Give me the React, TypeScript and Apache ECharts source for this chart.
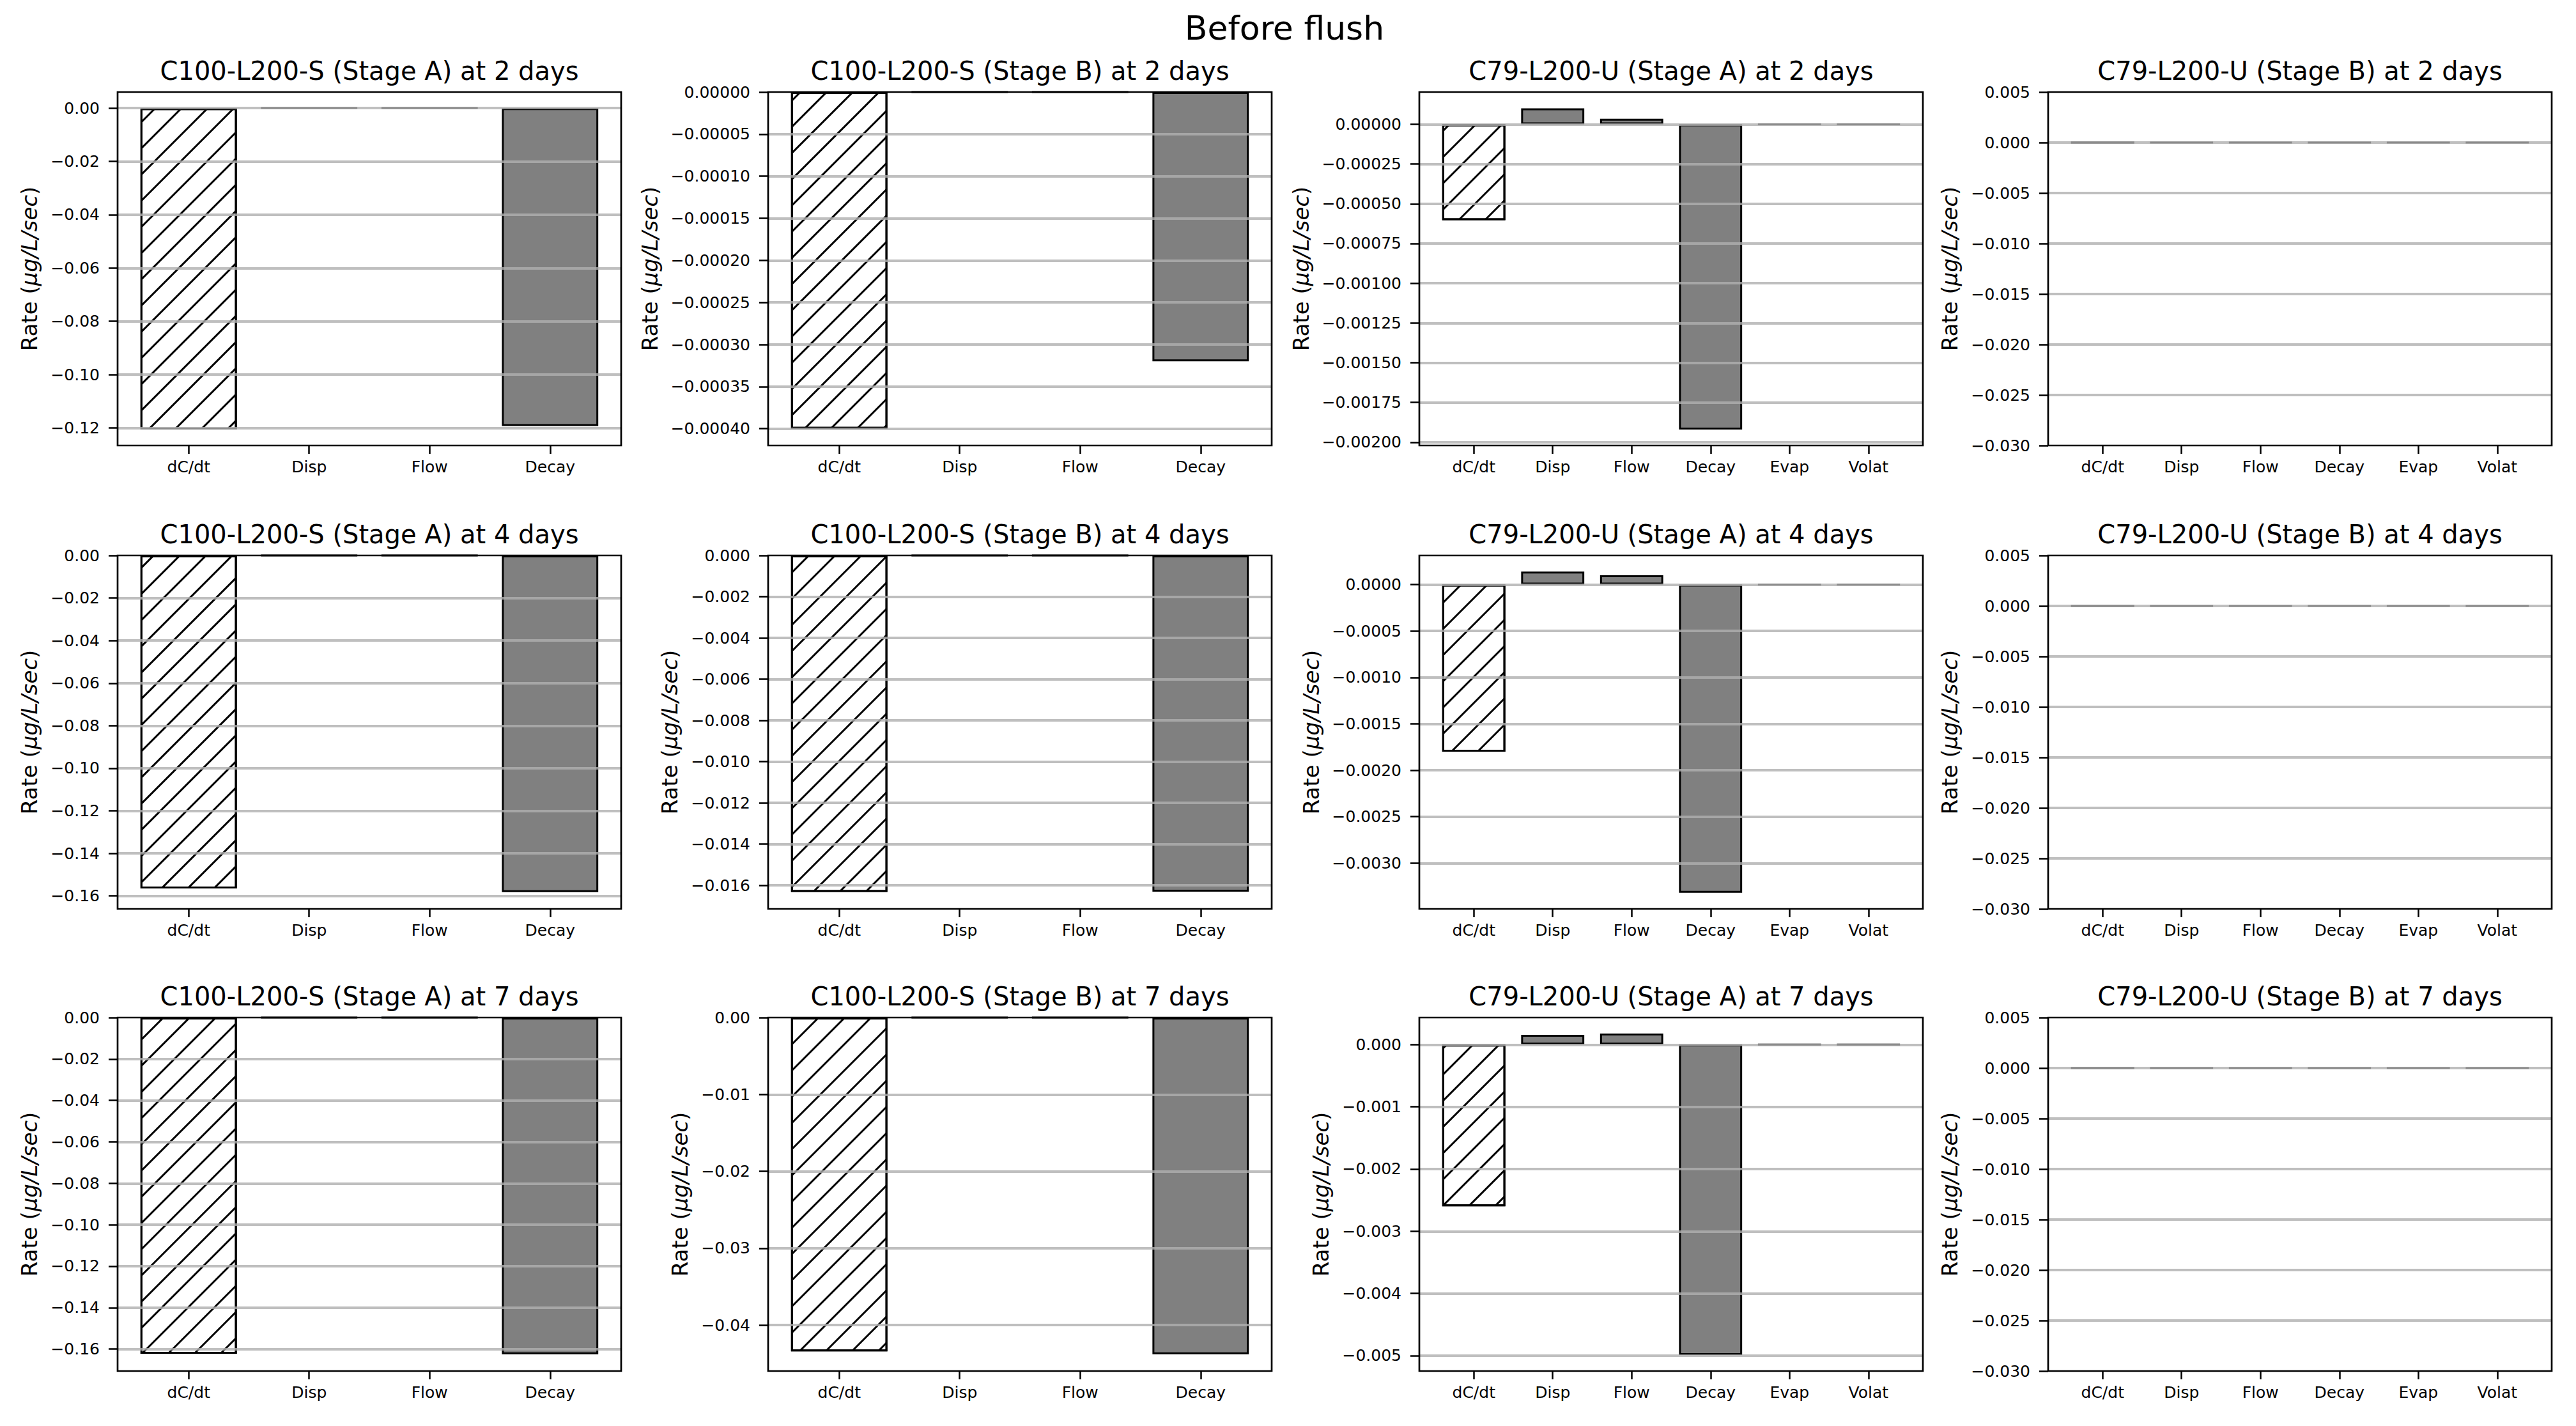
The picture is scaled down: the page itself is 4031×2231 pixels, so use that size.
import React, { useEffect, useRef } from "react";
import * as echarts from "echarts";

// ---------- categories & texts ----------
const CATS_C100 = ["dC/dt", "Disp", "Flow", "Decay"];
const CATS_C79 = ["dC/dt", "Disp", "Flow", "Decay", "Evap", "Volat"];
const SUPTITLE = "Before flush";
const TITLES = [
  "C100-L200-S (Stage A) at 2 days",
  "C100-L200-S (Stage B) at 2 days",
  "C79-L200-U (Stage A) at 2 days",
  "C79-L200-U (Stage B) at 2 days",
  "C100-L200-S (Stage A) at 4 days",
  "C100-L200-S (Stage B) at 4 days",
  "C79-L200-U (Stage A) at 4 days",
  "C79-L200-U (Stage B) at 4 days",
  "C100-L200-S (Stage A) at 7 days",
  "C100-L200-S (Stage B) at 7 days",
  "C79-L200-U (Stage A) at 7 days",
  "C79-L200-U (Stage B) at 7 days",
];

// ---------- series values ----------
const S_A_2D = [-0.1206, 0.00001, 0.00001, -0.1193];
const S_B_2D = [-0.0004, 0, 0, -0.00032];
const U_A_2D = [-0.000603, 0.0001, 0.000035, -0.00192, 0, 0];
const U_B_2D = [0, 0, 0, 0, 0, 0];
const S_A_4D = [-0.1565, 0, 0, -0.1582];
const S_B_4D = [-0.01632, 0, 0, -0.0163];
const U_A_4D = [-0.0018, 0.00014, 0.0001, -0.00332, 0, 0];
const U_B_4D = [0, 0, 0, 0, 0, 0];
const S_A_7D = [-0.1623, 0, 0, -0.1625];
const S_B_7D = [-0.04343, 0, 0, -0.04379];
const U_A_7D = [-0.0026, 0.000157, 0.000177, -0.00499, 0, 0];
const U_B_7D = [0, 0, 0, 0, 0, 0];

// ---------- y tick labels ----------
const T_S_A_2D = [0, -0.02, -0.04, -0.06, -0.08, -0.1, -0.12];
const T_S_B_2D = [0, -0.00005, -0.0001, -0.00015, -0.0002, -0.00025, -0.0003, -0.00035, -0.0004];
const T_U_A_2D = [0, -0.00025, -0.0005, -0.00075, -0.001, -0.00125, -0.0015, -0.00175, -0.002];
const T_U_B = [0.005, 0, -0.005, -0.01, -0.015, -0.02, -0.025, -0.03];
const T_S_A_4D = [0, -0.02, -0.04, -0.06, -0.08, -0.1, -0.12, -0.14, -0.16];
const T_S_B_4D = [0, -0.002, -0.004, -0.006, -0.008, -0.01, -0.012, -0.014, -0.016];
const T_U_A_4D = [0, -0.0005, -0.001, -0.0015, -0.002, -0.0025, -0.003];
const T_S_A_7D = [0, -0.02, -0.04, -0.06, -0.08, -0.1, -0.12, -0.14, -0.16];
const T_S_B_7D = [0, -0.01, -0.02, -0.03, -0.04];
const T_U_A_7D = [0, -0.001, -0.002, -0.003, -0.004, -0.005];

// ---------- y axis limits [min, max] ----------
const L_S_A_2D = [-0.1266, 0.00603];
const L_S_B_2D = [-0.00042, 0];
const L_U_A_2D = [-0.002021, 0.000203];
const L_U_B = [-0.03, 0.005];
const L_S_A_4D = [-0.1661, 0];
const L_S_B_4D = [-0.01714, 0];
const L_U_A_4D = [-0.003493, 0.000313];
const L_S_A_7D = [-0.1706, 0];
const L_S_B_7D = [-0.04598, 0];
const L_U_A_7D = [-0.005248, 0.000435];

// ---------- decimals of the tick labels ----------
const DECIMALS = [2, 5, 5, 3, 2, 3, 4, 3, 2, 2, 3, 3];

const PANELS = [
  { cats: CATS_C100, values: S_A_2D, ticks: T_S_A_2D, lim: L_S_A_2D },
  { cats: CATS_C100, values: S_B_2D, ticks: T_S_B_2D, lim: L_S_B_2D },
  { cats: CATS_C79, values: U_A_2D, ticks: T_U_A_2D, lim: L_U_A_2D },
  { cats: CATS_C79, values: U_B_2D, ticks: T_U_B, lim: L_U_B },
  { cats: CATS_C100, values: S_A_4D, ticks: T_S_A_4D, lim: L_S_A_4D },
  { cats: CATS_C100, values: S_B_4D, ticks: T_S_B_4D, lim: L_S_B_4D },
  { cats: CATS_C79, values: U_A_4D, ticks: T_U_A_4D, lim: L_U_A_4D },
  { cats: CATS_C79, values: U_B_4D, ticks: T_U_B, lim: L_U_B },
  { cats: CATS_C100, values: S_A_7D, ticks: T_S_A_7D, lim: L_S_A_7D },
  { cats: CATS_C100, values: S_B_7D, ticks: T_S_B_7D, lim: L_S_B_7D },
  { cats: CATS_C79, values: U_A_7D, ticks: T_U_A_7D, lim: L_U_A_7D },
  { cats: CATS_C79, values: U_B_7D, ticks: T_U_B, lim: L_U_B },
];

// ---------- layout ----------
const W = 4031;
const H = 2231;
const GRID_LEFTS = [184, 1202, 2221, 3205];
const GRID_TOPS = [144, 869, 1592];
const GRID_W = 788;
const GRID_H = 553;
const FONT = "DejaVu Sans";
const TICK_FS = 25;
const TITLE_FS = 40;
const YLABEL_FS = 34;
const SUP_FS = 52;
const LABEL_MARGIN = 28;
const GRID_COLOR = "rgba(175,175,175,0.8)";

function fmt(v: number, dec: number): string {
  const s = Math.abs(v).toFixed(dec);
  return (v < 0 && Math.abs(v) > 1e-12 ? "\u2212" : "") + s;
}

function measure(text: string, size: number): number {
  const c = document.createElement("canvas").getContext("2d");
  if (!c) return text.length * size * 0.6;
  c.font = `${size}px "${FONT}"`;
  return c.measureText(text).width;
}

export default function App() {
  const ref = useRef<HTMLDivElement>(null);

  useEffect(() => {
    if (!ref.current) return;
    const chart = echarts.init(ref.current, undefined, { renderer: "svg", width: W, height: H });

    const grids: any[] = [];
    const xAxes: any[] = [];
    const yAxes: any[] = [];
    const series: any[] = [];
    const graphics: any[] = [];

    graphics.push({
      type: "text",
      x: 2010,
      y: 44,
      style: {
        text: SUPTITLE,
        fontSize: SUP_FS,
        fontFamily: FONT,
        fill: "#000",
        align: "center",
        verticalAlign: "middle",
        textAlign: "center",
        textVerticalAlign: "middle",
      },
    });

    PANELS.forEach((p, i) => {
      const row = Math.floor(i / 4);
      const col = i % 4;
      const left = GRID_LEFTS[col];
      const top = GRID_TOPS[row];
      const n = p.cats.length;
      const pad = 0.4 + 0.05 * (n - 1 + 0.8);
      const unitPx = GRID_W / (n - 1 + 2 * pad);
      const barW = 0.8 * unitPx;
      const dec = DECIMALS[i];
      const labels = p.ticks.map((t) => fmt(t, dec));
      const maxLabelW = Math.max(...labels.map((l) => measure(l, TICK_FS)));
      const nameGap = LABEL_MARGIN + maxLabelW + 16;
      const idx = p.cats.map((_, k) => k);

      grids.push({
        left,
        top,
        width: GRID_W,
        height: GRID_H,
        show: true,
        borderColor: "#000",
        borderWidth: 2.7,
        backgroundColor: "transparent",
        z: 10,
      });

      xAxes.push({
        type: "value",
        gridIndex: i,
        min: -pad,
        max: n - 1 + pad,
        axisLine: { show: false, onZero: false },
        axisTick: {
          show: true,
          length: 13,
          lineStyle: { color: "#000", width: 2.5 },
          customValues: idx,
        },
        axisLabel: {
          customValues: idx,
          formatter: (v: number) => p.cats[Math.round(v)] ?? "",
          color: "#000",
          fontSize: TICK_FS,
          fontFamily: FONT,
          margin: 21,
        },
        splitLine: { show: false },
      });

      yAxes.push({
        type: "value",
        gridIndex: i,
        min: p.lim[0],
        max: p.lim[1],
        axisLine: { show: false, onZero: false },
        axisTick: {
          show: true,
          length: 14,
          lineStyle: { color: "#000", width: 2.5 },
          customValues: p.ticks,
        },
        axisLabel: {
          customValues: p.ticks,
          formatter: (v: number) => fmt(v, dec),
          color: "#000",
          fontSize: TICK_FS,
          fontFamily: FONT,
          margin: LABEL_MARGIN,
        },
        splitLine: { show: false },
        name: "{n|Rate (}{i|\u03bcg/L/sec}{n|)}",
        nameLocation: "middle",
        nameRotate: 90,
        nameGap,
        nameTextStyle: {
          rich: {
            n: { fontSize: YLABEL_FS, fontFamily: FONT, color: "#000" },
            i: { fontSize: YLABEL_FS, fontFamily: FONT, fontStyle: "italic", color: "#000" },
          },
        },
      });

      const span = p.lim[1] - p.lim[0];
      const gridTicks = p.ticks.filter(
        (t) => t > p.lim[0] + span * 0.002 && t < p.lim[1] - span * 0.002
      );

      series.push({
        type: "bar",
        xAxisIndex: i,
        yAxisIndex: i,
        barWidth: barW,
        data: p.values.map((v, k) => ({
          value: [k, v],
          itemStyle:
            k === 0
              ? {
                  color: "#ffffff",
                  borderColor: "#000",
                  borderWidth: 3,
                  decal: {
                    symbol: "rect",
                    symbolSize: 1,
                    color: "#000",
                    dashArrayX: [1, 0],
                    dashArrayY: [3, 26],
                    rotation: -Math.PI / 4,
                  },
                }
              : { color: "#808080", borderColor: "#000", borderWidth: 3 },
        })),
        markLine: {
          silent: true,
          precision: 12,
          symbol: ["none", "none"],
          label: { show: false },
          lineStyle: { color: GRID_COLOR, width: 4, type: "solid" },
          emphasis: { disabled: true },
          data: gridTicks.map((t) => ({ yAxis: t })),
        },
      });

      graphics.push({
        type: "text",
        x: left + GRID_W / 2,
        y: top - 33,
        style: {
          text: TITLES[i],
          fontSize: TITLE_FS,
          fontFamily: FONT,
          fill: "#000",
          align: "center",
          verticalAlign: "middle",
          textAlign: "center",
          textVerticalAlign: "middle",
        },
      });
    });

    chart.setOption({
      animation: false,
      backgroundColor: "#ffffff",
      textStyle: { fontFamily: FONT },
      grid: grids,
      xAxis: xAxes,
      yAxis: yAxes,
      series,
      graphic: graphics,
    });

    return () => chart.dispose();
  }, []);

  return (
    <div
      ref={ref}
      style={{ position: "absolute", left: 0, top: 0, width: W, height: H, background: "#fff" }}
    />
  );
}
